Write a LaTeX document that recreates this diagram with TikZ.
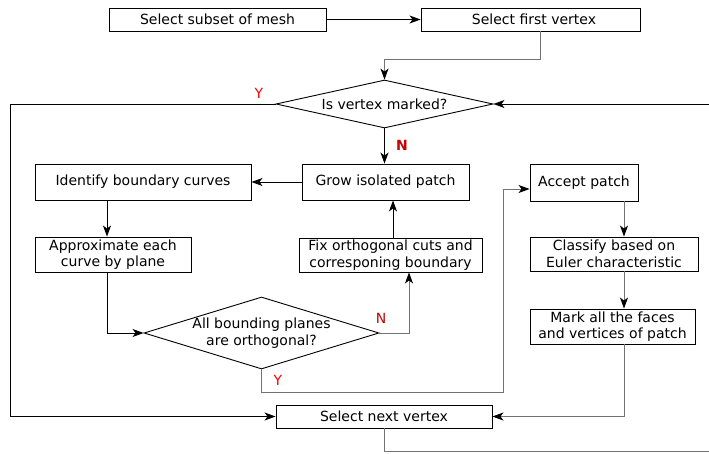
\documentclass[tikz,border=0pt]{standalone}
\usepackage{fontspec}
\setmainfont{DejaVu Sans}
\usetikzlibrary{arrows.meta,shapes.geometric}
\definecolor{darkred}{RGB}{200,0,0}
\begin{document}
\begin{tikzpicture}[x=1pt,y=-1pt,
  box/.style={draw=black,line width=0.9pt,rectangle,inner sep=0pt,align=center,
    font=\fontsize{14}{16.5}\selectfont},
  dia/.style={draw=black,line width=0.9pt,diamond,inner sep=0pt},
  txt/.style={inner sep=0pt,align=center,font=\fontsize{14}{16.5}\selectfont},
  lbl/.style={inner sep=0pt,text=red,font=\fontsize{14}{16}\selectfont},
  nlbl/.style={inner sep=0pt,text=darkred,font=\fontsize{14}{16}\selectfont},
  tip/.style={-{Stealth[length=11pt,width=8pt,inset=3pt,color=black]}},
  arr/.style={tip,draw=black,line width=0.9pt},
  garr/.style={tip,draw=black!55,line width=0.8pt},
  gline/.style={draw=black!55,line width=0.8pt}]
\useasboundingbox (0,0) rectangle (709,454);

\node[box,minimum width=217pt,minimum height=23pt] (subset) at (217.5,19.5) {Select subset of mesh};
\node[box,minimum width=219pt,minimum height=23pt] (first) at (530.5,19.5) {\hspace*{7pt}Select first vertex};
\node[dia,minimum width=217pt,minimum height=48pt] (marked) at (384.5,104) {};
\node[txt] (markedt) at (marked.center) {Is vertex marked?};
\node[box,minimum width=167pt,minimum height=36pt] (grow) at (385.5,182) {Grow isolated patch};
\node[box,minimum width=216pt,minimum height=36pt] (ident) at (143,182) {Identify boundary curves};
\node[box,minimum width=156pt,minimum height=35pt] (approx) at (113,254.5) {Approximate each\\curve by plane};
\node[dia,minimum width=235pt,minimum height=72pt] (orth) at (261.5,333) {};
\node[txt] (ortht) at (orth.center) {All bounding planes\\are orthogonal?};
\node[box,minimum width=183pt,minimum height=34pt] (fix) at (390.5,255) {Fix orthogonal cuts and\\corresponing boundary};
\node[box,minimum width=108pt,minimum height=37pt] (accept) at (584,182.5) {Accept patch};
\node[box,minimum width=168pt,minimum height=34pt] (classify) at (614,254) {Classify based on\\Euler characteristic};
\node[box,minimum width=165pt,minimum height=35pt] (mark) at (612.5,326.5) {Mark all the faces\\and vertices of patch};
\node[box,minimum width=216pt,minimum height=23pt] (next) at (384,416.5) {Select next vertex};

\node[lbl] (ymarked) at (259,93) {Y};
\node[nlbl,font=\fontsize{14}{16}\selectfont\bfseries] (nmarked) at (402,145) {N};
\node[nlbl] (north) at (381,318) {N};
\node[lbl] (yorth) at (278,380) {Y};

\coordinate (offR) at (740,104);

\begin{scope}
\clip (0,0) rectangle (709,454);
\draw[gline] (next.south) -- ++(0,23) -| (offR);
\draw[arr] (offR) -- (marked.east);
\end{scope}
\draw[arr] (subset.east) -- (first.west);
\draw[garr] ([xshift=9.5pt]first.south) -- ++(0,28) -| (marked.north);
\draw[arr] (marked.west) -- ++(-265,0) |- (next.west);
\draw[arr] (marked.south) -- (marked.south |- grow.north);
\draw[arr] (grow.west) -- (ident.east);
\draw[arr] ([xshift=-36pt]ident.south) -- ([xshift=-36pt]ident.south |- approx.north);
\draw[arr] ([xshift=-6pt]approx.south) |- (orth.west);
\draw[garr] (orth.east) -| ([xshift=18.5pt]fix.south);
\draw[arr] ([xshift=2.5pt]fix.north) -- ([xshift=2.5pt]fix.north |- grow.south);
\draw[garr] (orth.south) -- ++(0,23) -- ++(241.5,0) |- ([yshift=-6.5pt]accept.west);
\draw[garr] ([xshift=40pt]accept.south) -- ([xshift=40pt]accept.south |- classify.north);
\draw[garr] ([xshift=10pt]classify.south) -- ([xshift=10pt]classify.south |- mark.north);
\draw[garr] ([xshift=11.5pt]mark.south) |- (next.east);
\end{tikzpicture}
\end{document}
